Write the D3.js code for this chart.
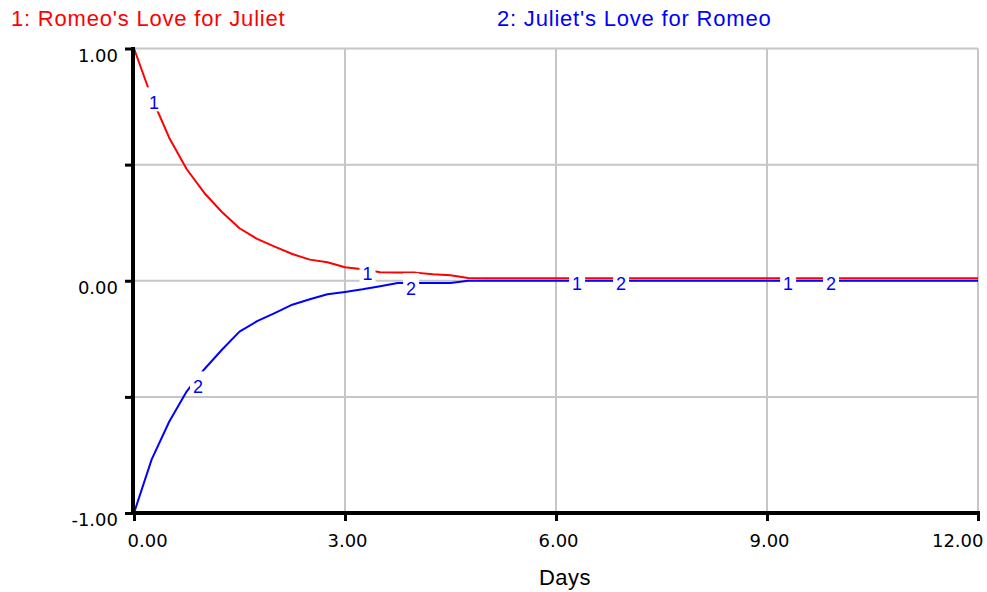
<!DOCTYPE html>
<html>
<head>
<meta charset="utf-8">
<script src="https://cdn.jsdelivr.net/npm/d3@7"></script>
<style>
  html, body { margin: 0; padding: 0; background: #fff; }
  svg { display: block; }
</style>
</head>
<body>
<script>
// ---------- data ----------
const days = [0, 0.25, 0.5, 0.75, 1, 1.25, 1.5, 1.75, 2, 2.25, 2.5, 2.75, 3, 3.25, 3.5, 3.75,
  4, 4.25, 4.5, 4.75, 5, 5.25, 5.5, 5.75, 6, 6.25, 6.5, 6.75, 7, 7.25, 7.5, 7.75,
  8, 8.25, 8.5, 8.75, 9, 9.25, 9.5, 9.75, 10, 10.25, 10.5, 10.75, 11, 11.25, 11.5, 11.75, 12];
const romeoLove = [1.0, 0.79, 0.616, 0.48, 0.378, 0.296, 0.226, 0.18, 0.147, 0.115, 0.091, 0.08,
  0.058, 0.05, 0.037, 0.036, 0.035, 0.028, 0.024, 0.012,
  0.011, 0.011, 0.011, 0.011, 0.011, 0.011, 0.011, 0.011, 0.011, 0.011, 0.011, 0.011,
  0.011, 0.011, 0.011, 0.011, 0.011, 0.011, 0.011, 0.011, 0.011, 0.011, 0.011, 0.011,
  0.011, 0.011, 0.011, 0.011, 0.011];
const julietLove = [-1.0, -0.77, -0.607, -0.476, -0.381, -0.297, -0.219, -0.174, -0.139, -0.103, -0.08, -0.058,
  -0.048, -0.037, -0.024, -0.01, -0.01, -0.01, -0.01, 0,
  0, 0, 0, 0, 0, 0, 0, 0, 0, 0, 0, 0,
  0, 0, 0, 0, 0, 0, 0, 0, 0, 0, 0, 0,
  0, 0, 0, 0, 0];
const seriesNames = ["1: Romeo's Love for Juliet", "2: Juliet's Love for Romeo"];
const seriesMarks = ["1", "2"];
// curve-label anchors (day, value at text baseline)
const label1Days = [0.284, 3.32, 6.3, 9.3];
const label1Vals = [0.738, 0.002, -0.041, -0.041];
const label2Days = [0.91, 3.94, 6.925, 9.91];
const label2Vals = [-0.485, -0.062, -0.041, -0.041];
const xTicks = [0, 3, 6, 9, 12];
const yTicks = [-1, -0.5, 0, 0.5, 1];
const xGrid = [3, 6, 9, 12];
const yGrid = [-0.5, 0, 0.5, 1];
const xTitle = "Days";

// ---------- chart ----------
const W = 987, H = 592;
const red = "#ff0000", blue = "#0000ff", gridC = "#c6c6c6";
const x = d3.scaleLinear().domain([0, 12]).range([134, 978]);
const y = d3.scaleLinear().domain([-1, 1]).range([513, 48.5]);
const fmt = d3.formatLocale({decimal: ".", thousands: ",", grouping: [3], currency: ["", ""], minus: "-"}).format(".2f");

const svg = d3.select("body").append("svg").attr("width", W).attr("height", H);

// gridlines
svg.append("g").selectAll("line").data(yGrid).join("line")
  .attr("x1", x(0)).attr("x2", x(12))
  .attr("y1", d => y(d)).attr("y2", d => y(d))
  .attr("stroke", gridC).attr("stroke-width", 2);
svg.append("g").selectAll("line").data(xGrid).join("line")
  .attr("x1", d => x(d)).attr("x2", d => x(d))
  .attr("y1", y(1)).attr("y2", y(-1))
  .attr("stroke", gridC).attr("stroke-width", 2);

// lines
const line = vals => d3.line().x((d, i) => x(days[i])).y(d => y(d))(vals);
svg.append("path").attr("d", line(romeoLove)).attr("fill", "none")
  .attr("stroke", red).attr("stroke-width", 2).attr("stroke-linejoin", "round");
svg.append("path").attr("d", line(julietLove)).attr("fill", "none")
  .attr("stroke", blue).attr("stroke-width", 2).attr("stroke-linejoin", "round");

// curve labels
function addLabels(ds, vs, txt) {
  const g = svg.append("g");
  ds.forEach((d, i) => {
    const cx = x(d), by = y(vs[i]);
    g.append("rect").attr("x", cx - 8).attr("y", by - 22).attr("width", 16).attr("height", 24)
      .attr("fill", "#fff");
    g.append("text").attr("x", cx).attr("y", by).attr("text-anchor", "middle")
      .attr("font-family", "'Liberation Sans', Arial, sans-serif").attr("font-size", 18)
      .attr("fill", blue).text(txt);
  });
}
addLabels(label1Days, label1Vals, seriesMarks[0]);
addLabels(label2Days, label2Vals, seriesMarks[1]);

// axes
const tickFont = "'DejaVu Sans', Verdana, sans-serif";
const yAxis = d3.axisLeft(y).tickValues(yTicks).tickSize(8).tickSizeOuter(0).tickPadding(7)
  .tickFormat(d => (d % 1 === 0 ? fmt(d) : ""));
const gy = svg.append("g").attr("transform", "translate(133,0)").call(yAxis);
gy.select(".domain").attr("stroke", "#000").attr("stroke-width", 4)
  .attr("d", `M0,${y(1) - 1.5}V${y(-1) + 2}`);
gy.selectAll(".tick line").attr("stroke", "#000").attr("stroke-width", 3);
gy.selectAll(".tick text").attr("font-family", tickFont).attr("font-size", 18)
  .attr("fill", "#000").attr("dy", 12.5);

const xAxis = d3.axisBottom(x).tickValues(xTicks).tickSize(8).tickSizeOuter(0)
  .tickFormat(fmt);
const gx = svg.append("g").attr("transform", `translate(0,${y(-1)})`).call(xAxis);
gx.select(".domain").attr("stroke", "#000").attr("stroke-width", 4)
  .attr("d", `M${131},0H${x(12) + 2}`);
gx.selectAll(".tick line").attr("stroke", "#000").attr("stroke-width", 3);
gx.selectAll(".tick text").attr("font-family", tickFont).attr("font-size", 18)
  .attr("fill", "#000").attr("y", 34).attr("dy", 0)
  .attr("text-anchor", (d, i) => i === 0 ? "start" : (i === xTicks.length - 1 ? "end" : "middle"))
  .attr("dx", (d, i) => i === 0 ? -7 : (i === xTicks.length - 1 ? 5 : 2));

// axis title
svg.append("text").attr("x", 565).attr("y", 585).attr("text-anchor", "middle")
  .attr("font-family", "'Liberation Sans', Arial, sans-serif").attr("font-size", 22)
  .attr("letter-spacing", 0.5).attr("fill", "#000").text(xTitle);

// series titles (legend)
svg.append("text").attr("x", 11).attr("y", 26)
  .attr("font-family", "'Liberation Sans', Arial, sans-serif").attr("font-size", 22)
  .attr("letter-spacing", 0.8).attr("fill", red).text(seriesNames[0]);
svg.append("text").attr("x", 497).attr("y", 26)
  .attr("font-family", "'Liberation Sans', Arial, sans-serif").attr("font-size", 22)
  .attr("letter-spacing", 0.8).attr("fill", blue).text(seriesNames[1]);
</script>
</body>
</html>
